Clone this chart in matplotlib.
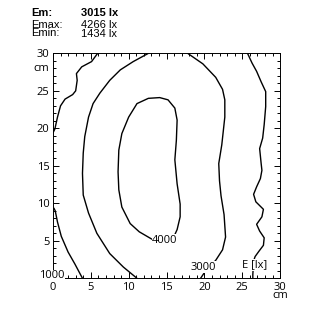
import matplotlib
matplotlib.use("Agg")
import matplotlib.pyplot as plt
from matplotlib.ticker import MultipleLocator

# summary values
em, emax, emin = 3015, 4266, 1434

# isolines (cm)
iso2000_ul_x = [5.9, 5.1, 3.8, 3.1, 3.2, 3.0, 2.6, 1.6, 1.0, 0.6, 0.25, 0.0]
iso2000_ul_y = [30, 28.9, 28.2, 27.3, 26.4, 25.0, 24.5, 23.9, 23.0, 21.5, 19.9, 19.4]

iso2000_ll_x = [0.1, 0.3, 0.6, 1.1, 2.0, 2.9, 3.9]
iso2000_ll_y = [9.4, 9.0, 7.5, 5.6, 3.5, 1.9, 0.0]

iso2000_r_x = [25.7, 26.3, 26.9, 27.5, 28.1, 28.1, 27.9, 27.7, 27.3, 27.5, 27.6, 27.4,
               26.9, 26.5, 26.8, 27.8, 27.6, 26.9, 27.3, 27.9, 27.8, 27.2, 26.7, 26.5, 26.4, 26.4]
iso2000_r_y = [30, 28.7, 27.6, 26.2, 24.9, 22.9, 20.5, 18.7, 17.3, 15.3, 14.4, 13.3,
               12.2, 11.2, 10.2, 9.2, 8.2, 7.2, 6.3, 5.4, 4.4, 3.6, 2.9, 2.3, 0.5, 0.0]

iso3000_l_x = [12.6, 10.6, 8.9, 7.5, 6.2, 5.3, 4.7, 4.2, 4.0, 3.9, 4.0, 4.7, 5.8, 7.5, 9.3, 11.1]
iso3000_l_y = [30, 28.9, 27.8, 26.4, 24.7, 23.3, 21.5, 18.9, 16.7, 14.0, 11.1, 8.7, 6.0, 3.3, 1.5, 0.0]

iso3000_r_x = [17.8, 19.8, 21.5, 22.4, 22.7, 22.7, 22.3, 21.9, 22.0, 22.2, 22.6, 22.8, 22.4, 21.5, 20.1, 19.5]
iso3000_r_y = [30, 28.6, 26.8, 25.2, 23.8, 21.5, 17.8, 15.3, 13.0, 11.0, 8.5, 5.5, 3.8, 2.4, 0.9, 0.0]

iso4000_x = [13.1, 11.4, 10.2, 9.1, 8.7, 8.6, 8.7, 9.1, 10.0, 11.1, 12.6, 14.1, 15.2, 16.1,
             16.4, 16.3, 16.1, 16.4, 16.8, 16.8, 16.4, 16.0, 14.8, 13.1]
iso4000_y = [5.2, 6.2, 7.3, 9.5, 11.8, 14.2, 17.1, 19.3, 21.5, 23.3, 24.0, 24.1, 23.8, 22.7,
             21.1, 18.4, 15.8, 12.6, 9.9, 8.2, 6.5, 5.6, 5.1, 5.2]

ticks = [0, 5, 10, 15, 20, 25, 30]
tick_labels = ["0", "5", "10", "15", "20", "25", "30"]

plt.rcParams["font.family"] = ["Open Sans", "DejaVu Sans"]

fig = plt.figure(figsize=(3.19, 3.12), dpi=100)
ax = fig.add_axes([0.166, 0.108, 0.712, 0.721])

for xs, ys in [(iso2000_ul_x, iso2000_ul_y), (iso2000_ll_x, iso2000_ll_y),
               (iso2000_r_x, iso2000_r_y), (iso3000_l_x, iso3000_l_y),
               (iso3000_r_x, iso3000_r_y), (iso4000_x, iso4000_y)]:
    ax.plot(xs, ys, color="black", lw=1.0, solid_capstyle="butt")

ax.set_xlim(0, 30)
ax.set_ylim(0, 30)
ax.set_xticks(ticks)
ax.set_yticks(ticks)
ax.set_xticklabels(tick_labels[:-1] + ["30\ncm"], va="top", linespacing=0.7)
ax.set_yticklabels([""] + tick_labels[1:])
ax.xaxis.set_minor_locator(MultipleLocator(1))
ax.yaxis.set_minor_locator(MultipleLocator(1))
ax.tick_params(which="both", direction="in", top=True, right=True, labelsize=8, pad=2.5,
               width=0.7)
ax.tick_params(which="major", length=4)
ax.tick_params(which="minor", length=2)
for s in ax.spines.values():
    s.set_linewidth(0.7)
ax.text(-0.45, 27.6, "cm", fontsize=8, ha="right", va="baseline")

bb = dict(facecolor="white", edgecolor="none", pad=0.3)
ax.text(14.8, 5.1, "4000", fontsize=8, ha="center", va="center", bbox=bb)
ax.text(19.9, 1.5, "3000", fontsize=8, ha="center", va="center", bbox=bb)
ax.text(26.7, 1.8, "E [lx]", fontsize=8, ha="center", va="center", bbox=bb)
ax.text(-0.1, 0.35, "1000", fontsize=8, ha="center", va="center", bbox=bb,
        clip_on=False, zorder=5)

hf = ["Liberation Sans", "DejaVu Sans"]
fig.text(31 / 319, 1 - 13.5 / 312, "Em:", fontsize=8, fontweight="bold", family=hf, va="center")
fig.text(81 / 319, 1 - 13.5 / 312, f"{em} lx", fontsize=8, fontweight="bold", family=hf, va="center")
fig.text(31 / 319, 1 - 24.5 / 312, "Emax:", fontsize=8, family=hf, va="center")
fig.text(81 / 319, 1 - 25 / 312, f"{emax} lx", fontsize=8, family=hf, va="center")
fig.text(31 / 319, 1 - 33.5 / 312, "Emin:", fontsize=8, family=hf, va="center")
fig.text(81 / 319, 1 - 34 / 312, f"{emin} lx", fontsize=8, family=hf, va="center")

fig.savefig("out.png", dpi=100)
